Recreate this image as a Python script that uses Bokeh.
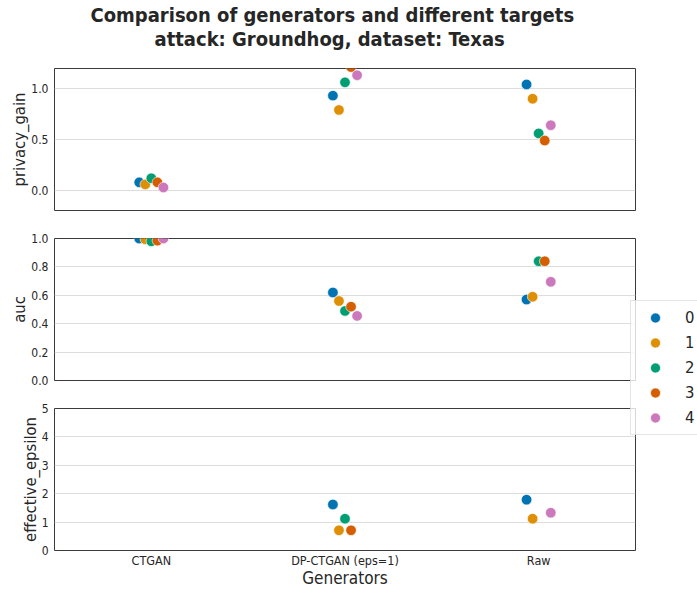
import math
from bokeh.plotting import figure
from bokeh.layouts import column, row
from bokeh.models import (ColumnDataSource, FactorRange, Range1d, FixedTicker,
                          PrintfTickFormatter, Legend, LegendItem, Title)
from bokeh.transform import dodge
from bokeh.embed import file_html
from bokeh.resources import INLINE

nan = float("nan")

generators = ["CTGAN", "DP-CTGAN (eps=1)", "Raw"]
targets = ["0", "1", "2", "3", "4"]
colors = ["#0173b2", "#de8f05", "#029e73", "#d55e00", "#cc78bc"]

# one list per target (0..4), values per generator
privacy_gain_0 = [0.08, 0.93, 1.04]
privacy_gain_1 = [0.06, 0.79, 0.90]
privacy_gain_2 = [0.12, 1.06, 0.56]
privacy_gain_3 = [0.08, 1.21, 0.49]
privacy_gain_4 = [0.03, 1.13, 0.64]

auc_0 = [1.00, 0.62, 0.57]
auc_1 = [0.995, 0.56, 0.59]
auc_2 = [0.98, 0.49, 0.84]
auc_3 = [0.985, 0.52, 0.84]
auc_4 = [1.00, 0.455, 0.695]

effective_epsilon_0 = [nan, 1.62, 1.79]
effective_epsilon_1 = [nan, 0.71, 1.12]
effective_epsilon_2 = [nan, 1.12, nan]
effective_epsilon_3 = [nan, 0.71, nan]
effective_epsilon_4 = [nan, nan, 1.33]

privacy_gain = [privacy_gain_0, privacy_gain_1, privacy_gain_2, privacy_gain_3, privacy_gain_4]
auc = [auc_0, auc_1, auc_2, auc_3, auc_4]
effective_epsilon = [effective_epsilon_0, effective_epsilon_1, effective_epsilon_2,
                     effective_epsilon_3, effective_epsilon_4]

privacy_ticks = [0.0, 0.5, 1.0]
auc_ticks = [0.0, 0.2, 0.4, 0.6, 0.8, 1.0]
eps_ticks = [0, 1, 2, 3, 4, 5]

title_line1 = "Comparison of generators and different targets"
title_line2 = "attack: Groundhog, dataset: Texas"

FONT = "DejaVu Sans Condensed"
TXT = "#262626"
W = 640


def make_panel(values, ylabel, yr, ticks, fmt, height, top, bottom, show_x):
    p = figure(x_range=FactorRange(*generators, range_padding=0),
               y_range=Range1d(*yr), width=W, height=height,
               min_border_left=54, min_border_right=5,
               min_border_top=top, min_border_bottom=bottom,
               output_backend="svg", toolbar_location=None)
    step = 0.125 / (len(targets) - 1)
    for i, t in enumerate(targets):
        src = ColumnDataSource(dict(gen=generators, val=values[i]))
        p.scatter(x=dodge("gen", (i - 2) * step, range=p.x_range), y="val",
                  source=src, size=10.5, fill_color=colors[i],
                  line_color="white", line_width=0.6)
    p.yaxis.ticker = FixedTicker(ticks=ticks)
    p.yaxis.formatter = PrintfTickFormatter(format=fmt)
    p.yaxis.axis_label = ylabel
    p.yaxis.axis_label_text_font = FONT
    p.yaxis.axis_label_text_font_size = "16.5px"
    p.yaxis.axis_label_text_font_style = "normal"
    p.yaxis.axis_label_text_color = TXT
    p.yaxis.axis_label_standoff = -1
    p.yaxis.major_label_text_font = FONT
    p.yaxis.major_label_text_font_size = "12px"
    p.yaxis.major_label_text_color = TXT
    p.yaxis.major_label_standoff = 6
    p.axis.major_tick_line_color = None
    p.axis.minor_tick_line_color = None
    p.axis.major_tick_out = 0
    p.axis.major_tick_in = 0
    p.axis.minor_tick_out = 0
    p.axis.axis_line_color = None
    if show_x:
        p.xaxis.axis_label = "Generators"
        p.xaxis.axis_label_text_font = FONT
        p.xaxis.axis_label_text_font_size = "17px"
        p.xaxis.axis_label_text_font_style = "normal"
        p.xaxis.axis_label_text_color = TXT
        p.xaxis.axis_label_standoff = -3
        p.xaxis.major_label_text_font = FONT
        p.xaxis.major_label_text_font_size = "12.5px"
        p.xaxis.major_label_text_color = TXT
        p.xaxis.major_label_standoff = 2
    else:
        p.xaxis.visible = False
    p.xgrid.grid_line_color = None
    p.ygrid.grid_line_color = "#dddddd"
    p.ygrid.grid_line_width = 1
    p.outline_line_color = "#3a3a3a"
    p.outline_line_width = 1
    p.background_fill_color = "white"
    p.border_fill_color = None
    return p


# title strip
tf = figure(width=W, height=52, min_border_left=54, min_border_right=5,
            min_border_top=50, min_border_bottom=0, x_axis_type=None, y_axis_type=None,
            x_range=Range1d(0, 1), y_range=Range1d(0, 1),
            output_backend="svg", toolbar_location=None)
tf.grid.grid_line_color = None
tf.outline_line_color = None
tf.background_fill_alpha = 0
tf.border_fill_alpha = 0
t2 = Title(text=title_line2, text_font=FONT, text_font_size="20px", text_font_style="bold",
           text_color=TXT, align="left", offset=100, standoff=0)
t1 = Title(text=title_line1, text_font=FONT, text_font_size="20px", text_font_style="bold",
           text_color=TXT, align="left", offset=36, standoff=-5)
tf.add_layout(t2, "above")
tf.add_layout(t1, "above")

f1 = make_panel(privacy_gain, "privacy_gain", (-0.196, 1.196), privacy_ticks, "%.1f",
                172, 16, 14, False)
f2 = make_panel(auc, "auc", (0, 1), auc_ticks, "%.1f", 170, 14, 14, False)
f3 = make_panel(effective_epsilon, "effective_epsilon", (0, 5), eps_ticks, "%d",
                196, 14, 40, True)

H = 52 + 172 + 170 + 196
leg = figure(width=67, height=H, min_border=0, x_axis_type=None, y_axis_type=None,
             x_range=Range1d(0, 1), y_range=Range1d(0, 1),
             output_backend="svg", toolbar_location=None)
leg.grid.grid_line_color = None
leg.outline_line_color = None
leg.background_fill_alpha = 0
leg.border_fill_alpha = 0
items = []
for i, t in enumerate(targets):
    r = leg.scatter(x=[nan], y=[nan], size=10.5, fill_color=colors[i],
                    line_color="white", line_width=0.6)
    items.append(LegendItem(label=t, renderers=[r]))
legend = Legend(items=items, location=(0, 155), padding=4, spacing=0,
                glyph_width=40, glyph_height=25, label_height=20, label_width=24,
                label_standoff=10, label_text_font=FONT, label_text_font_size="16.5px",
                label_text_color=TXT, border_line_color="#cccccc",
                background_fill_color="white", background_fill_alpha=0.8)
leg.add_layout(legend, "center")
leg.margin = (0, 0, 0, -10)

layout = row(column(tf, f1, f2, f3), leg)

open("out.html", "w").write(file_html(layout, INLINE))
